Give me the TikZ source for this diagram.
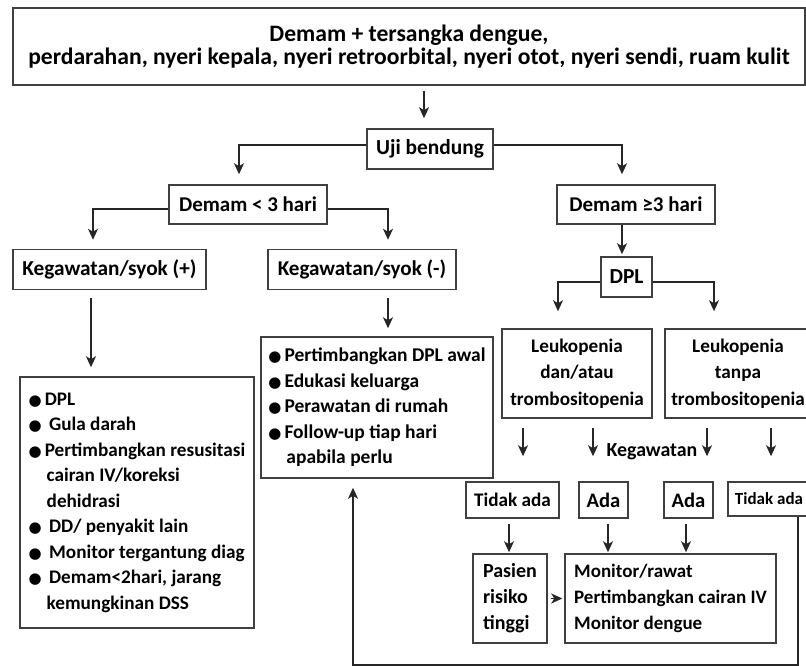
\documentclass[tikz,border=0pt]{standalone}
\usepackage{fontspec}
\setmainfont{Carlito}
\newfontfamily\symfont{DejaVu Sans}
\usetikzlibrary{arrows.meta}

\newcommand{\bul}{{\symfont\fontsize{15}{15}\selectfont ●}\hspace{3pt}}
\newcommand{\ind}{\hspace*{18pt}}
\newcommand{\sz}[2]{\bfseries\fontsize{#1}{#2}\selectfont}

\begin{document}
\begin{tikzpicture}[x = 1pt, y = -1pt,
  box/.style = {draw=black!75, line width=1.5pt, fill=white, inner sep=0pt, align=center, font=\sz{21}{25.5}},
  arr/.style = {-{Stealth[length=11pt,width=10pt,inset=3pt]}, line width=1.6pt, draw=black!85},]

\useasboundingbox (0,0) rectangle (806,666);

\node[box, minimum width=792, minimum height=77, font=\sz{23.6}{23.5}] (top) at (409,46.5) {Demam + tersangka dengue,\\perdarahan, nyeri kepala, nyeri retroorbital, nyeri otot, nyeri sendi, ruam kulit};
\node[box, minimum width=126, minimum height=40, font=\sz{21.4}{25}] (uji) at (430,149) {Uji bendung};
\node[box, minimum width=158, minimum height=39] (lt3) at (248,204.5) {Demam < 3 hari};
\node[box, minimum width=158, minimum height=39] (ge3) at (636,204.5) {Demam ≥3 hari};
\node[box, minimum width=193, minimum height=40, font=\sz{21.3}{25}] (syokpos) at (109.5,269.5) {Kegawatan/syok (+)};
\node[box, minimum width=188, minimum height=40, font=\sz{21.1}{25}] (syokneg) at (362,269.5) {Kegawatan/syok (-)};
\node[box, minimum width=51, minimum height=40, font=\sz{21.4}{25}] (dpl) at (626.5,277) {DPL};
\node[box, minimum width=150, minimum height=89, font=\sz{19.2}{26.5}] (leukA) at (577,373.5) {Leukopenia\\dan/atau\\trombositopenia};
\node[box, minimum width=146, minimum height=89, font=\sz{19.2}{26.5}] (leukB) at (738,373.5) {Leukopenia\\tanpa\\trombositopenia};

\node[box, minimum width=234, minimum height=251, align=left, font=\sz{19.2}{25.5}] (listA) at (137,502.5) {\bul DPL\\ \bul\ Gula darah\\ \bul Pertimbangkan resusitasi\\ \ind cairan IV/koreksi\\ \ind dehidrasi\\ \bul\ DD/ penyakit lain\\ \bul\ Monitor tergantung diag\\ \bul\ Demam<2hari, jarang\\ \ind kemungkinan DSS};
\node[box, minimum width=232, minimum height=141, align=left, font=\sz{19.5}{25.5}] (listB) at (377,407.5) {\bul Pertimbangkan DPL awal\\ \bul Edukasi keluarga\\ \bul Perawatan di rumah\\ \bul Follow-up tiap hari\\ \ind apabila perlu};

\node[font=\sz{19.9}{25}, inner sep=0pt] (keg) at (652,452) {Kegawatan};
\node[box, minimum width=93, minimum height=36, font=\sz{19.2}{25}] (tidakA) at (512.5,500) {Tidak ada};
\node[box, minimum width=49, minimum height=36, font=\sz{20.6}{25}] (adaA) at (603.5,500) {Ada};
\node[box, minimum width=49, minimum height=36, font=\sz{20.6}{25}] (adaB) at (688.5,500) {Ada};
\node[box, minimum width=82, minimum height=34, font=\sz{17}{20}] (tidakB) at (769,499) {Tidak ada};
\node[box, minimum width=74, minimum height=89, align=left, font=\sz{20}{26}] (pasien) at (510,598.5) {Pasien\\risiko\\tinggi};
\node[box, minimum width=211, minimum height=89, align=left, font=\sz{19}{26}] (monitor) at (670.5,598.5) {Monitor/rawat\\Pertimbangkan cairan IV\\Monitor dengue};

\draw[arr, shorten <=5pt, shorten >=10pt] (top.south -| 424,0) -- (uji.north -| 424,0);
\draw[arr, shorten >=10pt] ([yshift=4pt]uji.west) -| ([xshift=-9pt]lt3.north);
\draw[arr, shorten >=10pt] ([yshift=4pt]uji.east) -| ([xshift=-14pt]ge3.north);
\draw[arr, shorten >=9pt] ([yshift=-4.5pt]lt3.west) -| ([xshift=-16.5pt]syokpos.north);
\draw[arr, shorten >=9pt] ([yshift=-4.5pt]lt3.east) -| ([xshift=26pt]syokneg.north);
\draw[arr, shorten >=2pt] (ge3.south -| 622,0) -- (dpl.north -| 622,0);
\draw[arr, shorten >=17pt] ([yshift=-5pt]dpl.west) -| ([xshift=-19pt]leukA.north);
\draw[arr, shorten >=17pt] ([yshift=-5pt]dpl.east) -| ([xshift=-24pt]leukB.north);
\draw[arr, shorten <=8pt, shorten >=9pt] (syokpos.south -| 91,0) -- (listA.north -| 91,0);
\draw[arr, shorten <=8pt, shorten >=8pt] (syokneg.south -| 388,0) -- (listB.north -| 388,0);

\draw[arr, shorten <=9pt, shorten >=25pt] (leukA.south -| 523,0) -- (tidakA.north -| 523,0);
\draw[arr, shorten <=9pt, shorten >=25pt] (leukA.south -| 593,0) -- (adaA.north -| 593,0);
\draw[arr, shorten <=9pt, shorten >=25pt] (leukB.south -| 707,0) -- (adaB.north -| 707,0);
\draw[arr, shorten <=9pt, shorten >=25pt] (leukB.south -| 771,0) -- (tidakB.north -| 771,0);

\draw[arr, shorten <=5pt, shorten >=1pt] (tidakA.south -| 509,0) -- (pasien.north -| 509,0);
\draw[arr, shorten <=5pt, shorten >=1pt] (adaA.south -| 608,0) -- (monitor.north -| 608,0);
\draw[arr, shorten <=5pt, shorten >=1pt] (adaB.south -| 686,0) -- (monitor.north -| 686,0);
\draw[arr, shorten <=3pt, shorten >=2pt] (pasien.east) -- (monitor.west);
\draw[arr, shorten >=9pt] (tidakB.south -| 798,0) -- ++(0,148) -| ([xshift=-24pt]listB.south);

\end{tikzpicture}
\end{document}
